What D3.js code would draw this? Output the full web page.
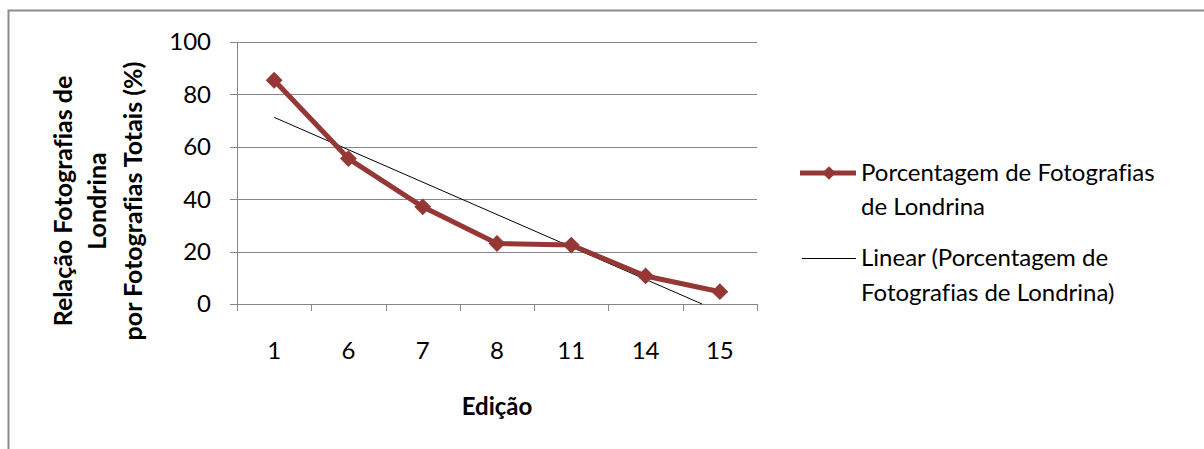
<!DOCTYPE html>
<html>
<head>
<meta charset="utf-8">
<script src="https://cdn.jsdelivr.net/npm/d3@7"></script>
<style>
  body { margin: 0; background: #fff; }
  text { font-family: Lato, "Open Sans", sans-serif; fill: #000; font-variant-ligatures: none; }
</style>
</head>
<body>
<div id="chart"></div>
<script>
// Chart data
const editions = ["1", "6", "7", "8", "11", "14", "15"];
const percentages = [85.4, 55.5, 37.1, 23.1, 22.5, 10.7, 4.7];
const yTicks = [0, 20, 40, 60, 80, 100];
const seriesName = ["Porcentagem de Fotografias", "de Londrina"];
const trendName = ["Linear (Porcentagem de", "Fotografias de Londrina)"];
const yTitle = ["Relação Fotografias de", "Londrina", "por Fotografias Totais (%)"];

const W = 1204, H = 449;
const margin = { top: 42, left: 237 };
const width = 520, height = 262;
const red = "#953735";
const grid = "#868686";

const svg = d3.select("#chart").append("svg")
    .attr("width", W)
    .attr("height", H);

// outer chart frame
svg.append("rect")
    .attr("x", 8.5).attr("y", 10.5)
    .attr("width", 1300).attr("height", 600)
    .style("fill", "none")
    .style("stroke", "#8c8c8c")
    .style("stroke-width", 2);

const g = svg.append("g")
    .attr("transform", `translate(${margin.left},${margin.top})`);

const x = d3.scaleBand().domain(editions).range([0, width]);
const y = d3.scaleLinear().domain([0, 100]).range([height, 0]);

// gridlines
g.selectAll(".grid")
    .data(yTicks)
    .enter().append("line")
    .attr("x1", -7).attr("x2", width)
    .attr("y1", d => Math.round(y(d)) + 0.5)
    .attr("y2", d => Math.round(y(d)) + 0.5)
    .style("stroke", grid);

// y axis line
g.append("line")
    .attr("x1", 0.5).attr("x2", 0.5)
    .attr("y1", 0).attr("y2", height + 7)
    .style("stroke", grid);

// x ticks at band boundaries
const bounds = editions.map(d => x(d)).concat([width]);
g.selectAll(".xtick")
    .data(bounds.slice(1))
    .enter().append("line")
    .attr("x1", d => Math.round(d) + 0.5)
    .attr("x2", d => Math.round(d) + 0.5)
    .attr("y1", height).attr("y2", height + 7)
    .style("stroke", grid);

// y tick labels
g.selectAll(".ylab")
    .data(yTicks)
    .enter().append("text")
    .attr("x", -26)
    .attr("y", d => y(d))
    .attr("dy", "0.35em")
    .attr("text-anchor", "end")
    .style("font-size", "24px")
    .text(d => d);

// x tick labels
g.selectAll(".xlab")
    .data(editions)
    .enter().append("text")
    .attr("x", d => x(d) + x.bandwidth() / 2)
    .attr("y", height + 47)
    .attr("dy", "0.35em")
    .attr("text-anchor", "middle")
    .style("font-size", "24px")
    .text(d => d);

// x axis title
g.append("text")
    .attr("x", width / 2)
    .attr("y", height + 103)
    .attr("dy", "0.35em")
    .attr("text-anchor", "middle")
    .style("font-size", "24px")
    .style("font-weight", "bold")
    .text("Edição");

// y axis title
const yt = svg.append("text")
    .attr("transform", "translate(0,201) rotate(-90)")
    .attr("text-anchor", "middle")
    .style("font-size", "25px")
    .style("font-weight", "bold");
yt.selectAll("tspan")
    .data(yTitle)
    .enter().append("tspan")
    .attr("x", 0)
    .attr("y", (d, i) => [72, 106, 142][i])
    .text(d => d);

// linear trendline (least squares over category index)
const n = percentages.length;
const xs = d3.range(1, n + 1);
const mx = d3.mean(xs), my = d3.mean(percentages);
const slope = d3.sum(xs, (v, i) => (v - mx) * (percentages[i] - my)) / d3.sum(xs, v => (v - mx) ** 2);
const intercept = my - slope * mx;
const xIdx = d3.scaleLinear().domain([1, n])
    .range([x(editions[0]) + x.bandwidth() / 2, x(editions[n - 1]) + x.bandwidth() / 2]);
const xEnd = Math.min(n, -intercept / slope);

g.append("line")
    .attr("x1", xIdx(1)).attr("y1", y(intercept + slope))
    .attr("x2", xIdx(xEnd)).attr("y2", y(Math.max(0, intercept + slope * xEnd)))
    .style("stroke", "#000")
    .style("stroke-width", 1);

// series line
const line = d3.line()
    .x((d, i) => x(editions[i]) + x.bandwidth() / 2)
    .y(d => y(d));

g.append("path")
    .datum(percentages)
    .attr("d", line)
    .style("fill", "none")
    .style("stroke", red)
    .style("stroke-width", 5)
    .style("stroke-linejoin", "round");

const diamond = d3.symbol().type(d3.symbolDiamond2).size(180);
g.selectAll(".dot")
    .data(percentages)
    .enter().append("path")
    .attr("transform", (d, i) => `translate(${x(editions[i]) + x.bandwidth() / 2},${y(d)})`)
    .attr("d", diamond)
    .style("fill", red);

// legend
const leg = svg.append("g").attr("transform", "translate(800,0)");
leg.append("line")
    .attr("x1", 0).attr("x2", 56)
    .attr("y1", 173).attr("y2", 173)
    .style("stroke", red).style("stroke-width", 5);
leg.append("path")
    .attr("transform", "translate(29,173)")
    .attr("d", d3.symbol().type(d3.symbolDiamond2).size(120))
    .style("fill", red);
leg.selectAll(".s1")
    .data(seriesName)
    .enter().append("text")
    .attr("x", 61)
    .attr("y", (d, i) => 173 + i * 34)
    .attr("dy", "0.35em")
    .style("font-size", "24px")
    .text(d => d);

leg.append("line")
    .attr("x1", 2).attr("x2", 56)
    .attr("y1", 258.5).attr("y2", 258.5)
    .style("stroke", "#000").style("stroke-width", 1);
leg.selectAll(".s2")
    .data(trendName)
    .enter().append("text")
    .attr("x", 61)
    .attr("y", (d, i) => 258 + i * 35)
    .attr("dy", "0.35em")
    .style("font-size", "24px")
    .text(d => d);
</script>
</body>
</html>
